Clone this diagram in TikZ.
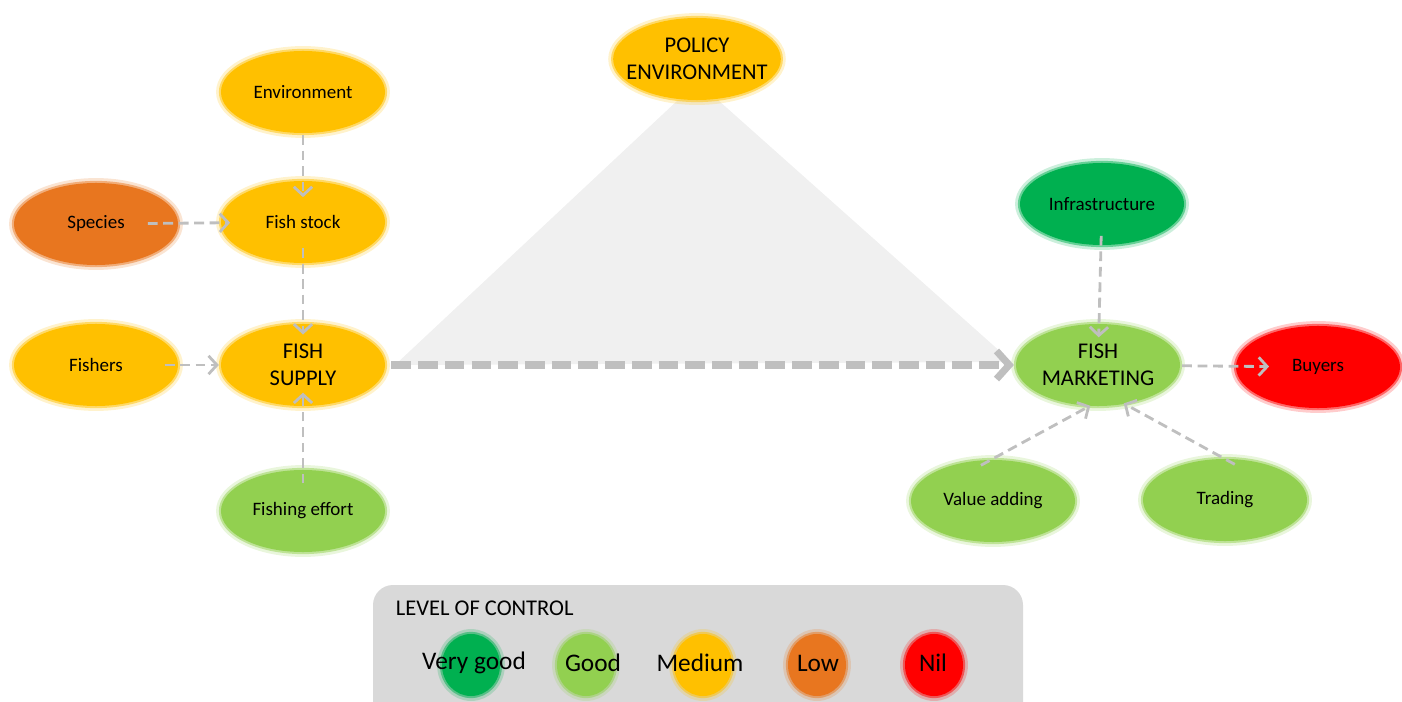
\documentclass[tikz,border=0pt]{standalone}
\usepackage{fontspec}
\setmainfont{Carlito}
\usetikzlibrary{shapes.geometric,arrows.meta}
\definecolor{vgoodgreen}{HTML}{00B050}
\definecolor{goodgreen}{HTML}{92D050}
\definecolor{mediumyellow}{HTML}{FFC000}
\definecolor{loworange}{HTML}{E8761F}
\definecolor{nilred}{HTML}{FF0000}
\definecolor{arrowgray}{HTML}{BFBFBF}
\definecolor{triangray}{HTML}{F0F0F0}
\definecolor{legendgray}{HTML}{D9D9D9}
\tikzset{blob/.style={
  shape=ellipse,
  fill=#1,
  draw=#1,
  draw opacity=0.5,
  line width=3pt,
  preaction={draw=#1, draw opacity=0.2, line width=7pt},
  minimum width=4.1cm,
  minimum height=2.05cm,
  inner sep=0pt,
  align=center,
  font=\fontsize{13.5}{16}\selectfont,
  }
  }
\tikzset{bigblob/.style={
  blob=#1,
  inner xsep=-8pt,
  font=\fontsize{16}{19}\selectfont,
  }
  }
\tikzset{legdot/.style={
  shape=ellipse,
  fill=#1,
  draw=#1,
  draw opacity=0.5,
  line width=3pt,
  preaction={draw=#1, draw opacity=0.2, line width=7pt},
  minimum width=1.45cm,
  minimum height=1.55cm,
  inner sep=0pt,
  }
  }
\tikzset{flow/.style={
  draw=arrowgray,
  line width=2pt,
  dash pattern=on 7pt off 4pt,
  -{Straight Barb[length=6pt,width=13pt]},
  }
  }
\tikzset{mainflow/.style={
  draw=arrowgray,
  line width=5pt,
  dash pattern=on 14pt off 5pt,
  -{Straight Barb[length=9pt,width=20pt]},
  }
  }

\begin{document}
\begin{tikzpicture}[x=0.025cm,y=-0.025cm]
  \useasboundingbox (0,0) rectangle (1402,702);

  % policy triangle
  \fill[triangray] (395,365) -- (678,100) -- (718,100) -- (1012,362) -- cycle;

  % supply side
  \node[blob=mediumyellow] (env)     at (303,92)  {Environment};
  \node[blob=mediumyellow] (stock)   at (303,222) {Fish stock};
  \node[blob=loworange]    (species) at (96,224)  {Species};
  \node[blob=mediumyellow] (fishers) at (96,365)  {Fishers};
  \node[bigblob=mediumyellow] (supply) at (303,365) {FISH\\SUPPLY};
  \node[blob=goodgreen]    (effort)  at (303,511) {Fishing effort};

  % policy
  \node[bigblob=mediumyellow] (policy) at (697,59) {POLICY\\ENVIRONMENT};

  % marketing side
  \node[blob=vgoodgreen]   (infra)   at (1102,204) {Infrastructure};
  \node[bigblob=goodgreen] (mkt)     at (1098,365) {FISH\\MARKETING};
  \node[blob=nilred]       (buyers)  at (1318,367) {Buyers};
  \node[blob=goodgreen]    (vadd)    at (993,501)  {Value adding};
  \node[blob=goodgreen]    (trade)   at (1225,500) {Trading};

  % links
  \draw[flow, shorten >=-13pt] (env) -- (stock);
  \draw[flow, shorten <=-23pt, shorten >=-8pt] (species) -- (stock);
  \draw[flow, shorten <=-12pt, shorten >=-9pt] (stock) -- (supply);
  \draw[flow, shorten <=-11pt] (fishers) -- (supply);
  \draw[flow, shorten <=-11pt, shorten >=-11pt] (effort) -- (supply);
  \draw[mainflow, shorten <=3pt] (supply) -- (mkt);
  \draw[flow, shorten <=-8pt, shorten >=-11pt] (infra) -- (mkt);
  \draw[flow, shorten >=-25pt] (mkt) -- (buyers);
  \draw[flow, shorten <=-11pt, shorten >=-3pt] (vadd.88) -- (mkt.-105);
  \draw[flow, shorten <=-11pt, shorten >=-3pt] (trade.95) -- (mkt.-54);

  % legend
  \fill[legendgray, rounded corners=0.5cm] (373,585) rectangle (1023,730);
  \node[anchor=west, font=\fontsize{16}{19}\selectfont] (legtitle) at (391,608) {LEVEL OF CONTROL};
  \node[legdot=vgoodgreen]   (lvgood)   at (471,665) {};
  \node[legdot=goodgreen]    (lgood)    at (586,665) {};
  \node[legdot=mediumyellow] (lmedium)  at (703,665) {};
  \node[legdot=loworange]    (llow)     at (817,665) {};
  \node[legdot=nilred]       (lnil)     at (934,665) {};
  \node[font=\fontsize{18}{21}\selectfont] at (474,663) {Very good};
  \node[font=\fontsize{18}{21}\selectfont] at (593,663) {Good};
  \node[font=\fontsize{18}{21}\selectfont] at (700,663) {Medium};
  \node[font=\fontsize{18}{21}\selectfont] at (818,663) {Low};
  \node[font=\fontsize{18}{21}\selectfont] at (933,663) {Nil};
\end{tikzpicture}
\end{document}
